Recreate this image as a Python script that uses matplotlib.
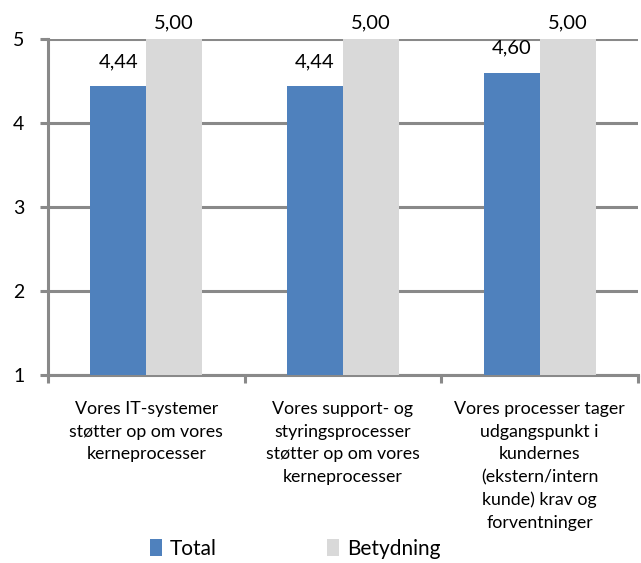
import matplotlib
matplotlib.use("Agg")
import matplotlib.pyplot as plt
import numpy as np
from matplotlib.patches import Patch

categories = [
    "Vores IT-systemer\nstøtter op om vores\nkerneprocesser",
    "Vores support- og\nstyringsprocesser\nstøtter op om vores\nkerneprocesser",
    "Vores processer tager\nudgangspunkt i\nkundernes\n(ekstern/intern\nkunde) krav og\nforventninger",
]
series_names = ["Total", "Betydning"]
total = [4.44, 4.44, 4.60]
betydning = [5.00, 5.00, 5.00]
y_ticks = [1, 2, 3, 4, 5]

BLUE = "#4F81BD"
GRAY = "#D9D9D9"
LINE = "#898989"

plt.rcParams["font.family"] = ["Lato", "DejaVu Sans"]
plt.rcParams["font.size"] = 12.5

fig = plt.figure(figsize=(6.41, 5.63), dpi=100)
ax = fig.add_axes([48 / 641, 1 - 375 / 563, 590 / 641, 336 / 563])

x = np.arange(len(categories))
w = 0.284
base = 1
b1 = ax.bar(x - w / 2, np.array(total) - base, w, bottom=base, color=BLUE, zorder=3)
b2 = ax.bar(x + w / 2, np.array(betydning) - base, w, bottom=base, color=GRAY, zorder=3)

ax.set_xlim(-0.5, len(categories) - 0.5)
ax.set_ylim(1, 5)
ax.set_yticks(y_ticks)
ax.yaxis.grid(True, color=LINE, linewidth=2.2, zorder=1)
ax.set_axisbelow(True)

for side in ("top", "right"):
    ax.spines[side].set_visible(False)
for side in ("left", "bottom"):
    ax.spines[side].set_color(LINE)
    ax.spines[side].set_linewidth(2.2)

ax.tick_params(axis="y", length=6, width=2.2, color=LINE, pad=11, labelsize=14)

# category labels at bar-group centres, tick marks at group boundaries
ax.set_xticks(x)
ax.set_xticklabels(categories, linespacing=1.5, fontsize=12.8, va="top")
ax.tick_params(axis="x", which="major", length=0, pad=19)
ax.set_xticks(np.arange(len(categories) + 1) - 0.5, minor=True)
ax.tick_params(axis="x", which="minor", length=6, width=2.2, color=LINE)

def fmt(v):
    return f"{v:.2f}".replace(".", ",")

for bars, vals in ((b1, total), (b2, betydning)):
    for rect, v in zip(bars, vals):
        gap = 5.5 if v >= 5 else 11.5
        ax.annotate(fmt(v), (rect.get_x() + rect.get_width() / 2, v),
                    xytext=(0, gap), textcoords="offset points",
                    ha="center", va="bottom", fontsize=14.5, clip_on=False)

handles = [Patch(facecolor=BLUE, edgecolor="none"), Patch(facecolor=GRAY, edgecolor="none")]
fig.legend(handles, series_names, loc="center", bbox_to_anchor=(295 / 641, 1 - 549 / 563),
           ncol=2, frameon=False, handlelength=0.6, handleheight=0.9, handletextpad=0.35,
           columnspacing=5.3, fontsize=15)

fig.savefig("out.png", dpi=100)
